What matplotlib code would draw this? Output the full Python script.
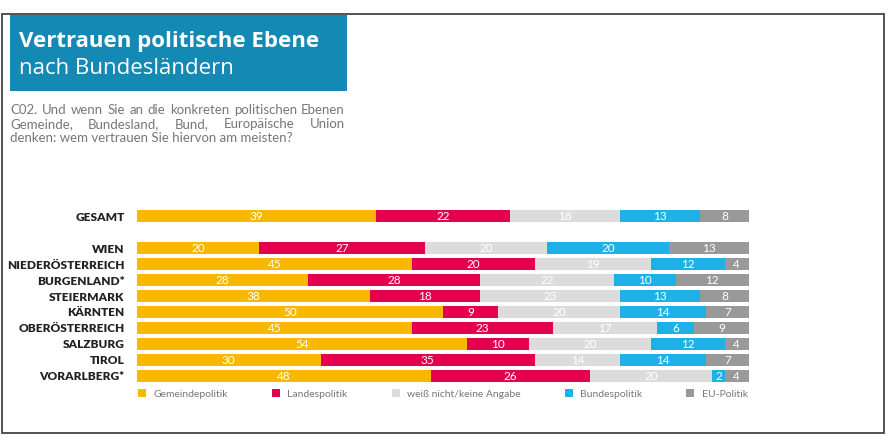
import numpy as np
import matplotlib
matplotlib.use('Agg')
import matplotlib.pyplot as plt
from matplotlib.patches import Rectangle, Patch

plt.rcParams['font.family'] = ['Lato', 'DejaVu Sans']

regions = ['GESAMT', 'WIEN', 'NIEDERÖSTERREICH', 'BURGENLAND*', 'STEIERMARK',
           'KÄRNTEN', 'OBERÖSTERREICH', 'SALZBURG', 'TIROL', 'VORARLBERG*']
gemeinde = [39, 20, 45, 28, 38, 50, 45, 54, 30, 48]
landes = [22, 27, 20, 28, 18, 9, 23, 10, 35, 26]
weiss_nicht = [18, 20, 19, 22, 23, 20, 17, 20, 14, 20]
bundes = [13, 20, 12, 10, 13, 14, 6, 12, 14, 2]
eu = [8, 13, 4, 12, 8, 7, 9, 4, 7, 4]

series = ['Gemeindepolitik', 'Landespolitik', 'weiß nicht/keine Angabe',
          'Bundespolitik', 'EU-Politik']
colors = ['#F8B800', '#E2004F', '#DCDCDC', '#1EB0E6', '#999999']

W, H = 889, 440
fig = plt.figure(figsize=(W / 100, H / 100), dpi=100)

# outer frame
fig.patches.append(Rectangle((2 / W, 1 - 433 / H), 882 / W, 419 / H,
                             transform=fig.transFigure, fill=False,
                             edgecolor='#444444', linewidth=1.3))

# title box
fig.patches.append(Rectangle((10 / W, 1 - 91 / H), 337 / W, 76 / H,
                             transform=fig.transFigure, facecolor='#1489B4',
                             edgecolor='none'))
fig.text(19 / W, 1 - 42 / H, 'Vertrauen politische Ebene', color='white',
         fontsize=16, fontweight='bold', va='center', ha='left',
         family='Open Sans')
fig.text(19 / W, 1 - 69 / H, 'nach Bundesländern', color='white',
         fontsize=16, fontweight='normal', va='center', ha='left',
         family='Open Sans')

# subtitle, justified
sub_lines = ['C02. Und wenn Sie an die konkreten politischen Ebenen',
             'Gemeinde, Bundesland, Bund, Europäische Union',
             'denken: wem vertrauen Sie hiervon am meisten?']
renderer = fig.canvas.get_renderer()
x0, x1 = 10, 345
for i, line in enumerate(sub_lines):
    y = 1 - (110 + i * 14) / H
    words = line.split(' ')
    if i == len(sub_lines) - 1:
        fig.text(x0 / W, y, line, fontsize=9.5, color='#777777', va='center')
        continue
    ts = [fig.text(0, y, w, fontsize=9.5, color='#777777', va='center') for w in words]
    widths = [t.get_window_extent(renderer).width for t in ts]
    gap = (x1 - x0 - sum(widths)) / (len(words) - 1)
    x = x0
    for t, w in zip(ts, widths):
        t.set_x(x / W)
        x += w + gap

# bars
ax = fig.add_axes([137 / W, 1 - 392 / H, 612 / W, 192 / H])
ypos = np.array([0] + list(range(2, 11)))
data = [gemeinde, landes, weiss_nicht, bundes, eu]
left = np.zeros(len(regions))
for vals, col, name in zip(data, colors, series):
    vals = np.array(vals)
    ax.barh(ypos, vals, left=left, height=0.75, color=col, label=name)
    for y, l, v in zip(ypos, left, vals):
        ax.text(l + v / 2, y, str(v), color='white', fontsize=8.5,
                ha='center', va='center')
    left += vals

ax.set_xlim(0, 100)
ax.set_ylim(11, -1)
ax.set_yticks(ypos)
ax.set_yticklabels(regions, fontsize=8.6, fontweight='heavy', color='#222222')
ax.tick_params(axis='y', length=0, pad=9)
ax.set_xticks([])
for s in ax.spines.values():
    s.set_visible(False)

handles = [Patch(facecolor=c, edgecolor='none') for c in colors]
fig.legend(handles, series, loc='center left', bbox_to_anchor=(138 / W, 1 - 394 / H),
           ncol=5, frameon=False, fontsize=7.5, handlelength=0.8, handleheight=0.8,
           handletextpad=0.7, columnspacing=4.2, labelcolor='#777777',
           borderpad=0, borderaxespad=0)

fig.savefig('out.png', dpi=100)
